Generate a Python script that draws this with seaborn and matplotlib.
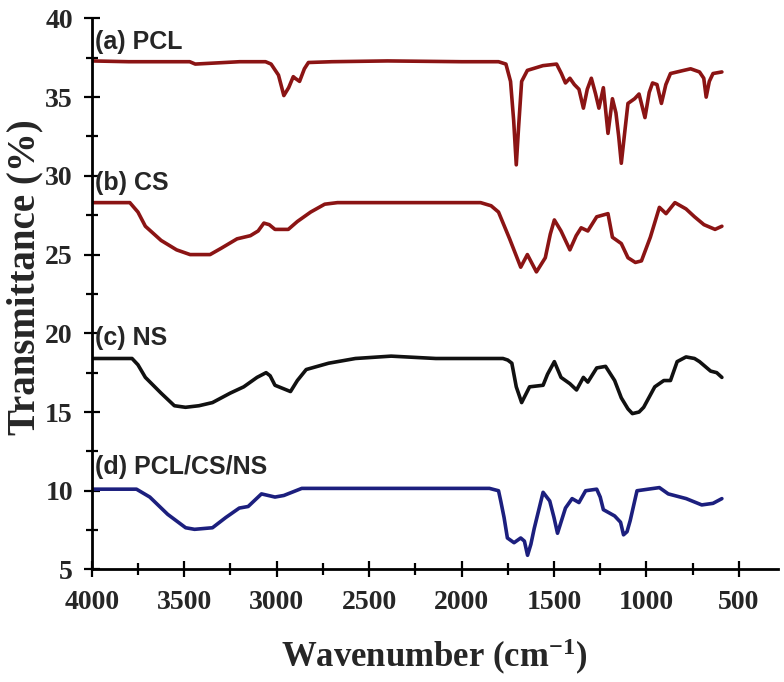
import matplotlib
matplotlib.use("Agg")
import matplotlib.pyplot as plt
import seaborn as sns
import pandas as pd
from matplotlib.ticker import MultipleLocator

# ---------------- data ----------------
pcl_wn = [4000, 3800, 3470, 3440, 3200, 3060, 3030, 2990, 2961, 2935, 2910, 2900, 2876, 2850, 2828,
          2700, 2400, 2000, 1800, 1760, 1735, 1718, 1704, 1692, 1675, 1644, 1560, 1486, 1460, 1438,
          1414, 1390, 1365, 1341, 1320, 1298, 1275, 1257, 1233, 1208, 1184, 1165, 1150, 1136, 1120,
          1100, 1088, 1064, 1040, 1008, 985, 967, 943, 919, 895, 870, 798, 761, 713, 690, 677, 660,
          640, 592]
pcl_t = [37.3, 37.25, 37.25, 37.1, 37.25, 37.25, 37.1, 36.4, 35.1, 35.6, 36.3, 36.2, 36.0, 36.8, 37.2,
         37.25, 37.3, 37.25, 37.25, 37.1, 36.0, 33.5, 30.7, 33.0, 36.0, 36.7, 37.0, 37.1, 36.5, 35.9,
         36.2, 35.8, 35.5, 34.3, 35.5, 36.2, 35.2, 34.3, 35.6, 32.7, 34.9, 34.0, 32.5, 30.8, 32.5,
         34.6, 34.7, 34.9, 35.2, 33.7, 35.3, 35.9, 35.8, 34.6, 35.8, 36.5, 36.7, 36.8, 36.6, 36.2,
         35.0, 36.0, 36.5, 36.6]

cs_wn = [4000, 3794, 3750, 3710, 3625, 3541, 3468, 3360, 3300, 3214, 3142, 3100, 3069, 3040, 3009,
         2937, 2888, 2816, 2740, 2671, 2300, 1897, 1840, 1800, 1740, 1680, 1644, 1595, 1547, 1520,
         1498, 1462, 1414, 1380, 1353, 1317, 1269, 1208, 1184, 1136, 1100, 1060, 1027, 979, 930,
         894, 846, 786, 740, 689, 629, 592]
cs_t = [28.3, 28.3, 27.7, 26.8, 25.9, 25.3, 25.0, 25.0, 25.4, 26.0, 26.2, 26.5, 27.0, 26.9, 26.6,
        26.6, 27.1, 27.7, 28.2, 28.3, 28.3, 28.3, 28.1, 27.7, 26.0, 24.2, 25.0, 23.9, 24.8, 26.3,
        27.2, 26.5, 25.3, 26.2, 26.7, 26.5, 27.4, 27.6, 26.1, 25.7, 24.8, 24.5, 24.6, 26.1, 28.0,
        27.6, 28.3, 27.9, 27.4, 26.9, 26.6, 26.8]

ns_wn = [4000, 3782, 3750, 3710, 3625, 3553, 3493, 3420, 3347, 3251, 3178, 3106, 3057, 3035, 3009,
         2925, 2888, 2840, 2719, 2574, 2381, 2139, 1776, 1750, 1728, 1704, 1675, 1632, 1559, 1535,
         1498, 1462, 1414, 1378, 1341, 1317, 1269, 1221, 1172, 1136, 1100, 1076, 1040, 1015, 955,
         906, 870, 834, 786, 740, 713, 653, 620, 592]
ns_t = [18.4, 18.4, 18.0, 17.2, 16.2, 15.4, 15.3, 15.4, 15.6, 16.2, 16.6, 17.2, 17.5, 17.3, 16.7,
        16.3, 17.0, 17.7, 18.1, 18.4, 18.55, 18.4, 18.4, 18.3, 18.1, 16.6, 15.6, 16.6, 16.7, 17.4,
        18.2, 17.2, 16.8, 16.4, 17.2, 16.9, 17.8, 17.9, 17.0, 15.9, 15.2, 14.9, 15.0, 15.3, 16.6,
        17.0, 17.0, 18.2, 18.5, 18.4, 18.2, 17.6, 17.5, 17.2]

mix_wn = [4000, 3758, 3686, 3589, 3492, 3444, 3347, 3275, 3202, 3154, 3082, 3009, 2961, 2864, 1849,
          1800, 1788, 1770, 1752, 1716, 1680, 1660, 1643, 1625, 1607, 1559, 1523, 1500, 1481, 1438,
          1402, 1365, 1329, 1269, 1250, 1233, 1172, 1140, 1124, 1105, 1088, 1051, 991, 930, 882,
          785, 701, 640, 592]
mix_t = [10.1, 10.1, 9.6, 8.5, 7.65, 7.55, 7.65, 8.3, 8.9, 9.0, 9.8, 9.6, 9.7, 10.15, 10.15,
         10.0, 9.35, 8.3, 7.0, 6.7, 7.0, 6.8, 5.9, 6.6, 7.6, 9.9, 9.35, 8.3, 7.3, 8.9,
         9.5, 9.25, 10.0, 10.1, 9.6, 8.8, 8.4, 8.0, 7.2, 7.4, 8.1, 10.0, 10.1, 10.2, 9.8,
         9.5, 9.1, 9.2, 9.5]

labels = ["(a) PCL", "(b) CS", "(c) NS", "(d) PCL/CS/NS"]
label_y = [38.5, 29.55, 19.7, 11.5]
colors = ["#8B1414", "#8B1414", "#111111", "#1C1F7E"]

series = [(pcl_wn, pcl_t), (cs_wn, cs_t), (ns_wn, ns_t), (mix_wn, mix_t)]

# ---------------- plot ----------------
sns.set_style("ticks")
plt.rcParams["mathtext.fontset"] = "custom"
plt.rcParams["mathtext.rm"] = "Liberation Serif:bold"
plt.rcParams["mathtext.bf"] = "Liberation Serif:bold"
plt.rcParams["mathtext.it"] = "Liberation Serif:bold"

fig = plt.figure(figsize=(7.84, 6.82), dpi=100)
ax = fig.add_axes([0.117, 0.165, 0.875, 0.808])

for (wn, t), c in zip(series, colors):
    df = pd.DataFrame({"wn": wn, "T": t})
    sns.lineplot(data=df, x="wn", y="T", ax=ax, color=c, lw=2.6, sort=False, estimator=None)

for lab, y in zip(labels, label_y):
    ax.text(3985, y, lab, fontsize=18, fontweight="bold", family="Liberation Sans",
            va="center", ha="left")

ax.set_xlim(4000, 290)
ax.set_ylim(5, 40)
ax.yaxis.set_major_locator(MultipleLocator(5))
ax.yaxis.set_minor_locator(MultipleLocator(2.5))
ax.set_xticks([4000, 3500, 3000, 2500, 2000, 1500, 1000, 500])
ax.set_xticks([3750, 3250, 2750, 2250, 1750, 1250, 750], minor=True)

sns.despine(ax=ax)
for s in ["left", "bottom"]:
    ax.spines[s].set_linewidth(2.0)
    ax.spines[s].set_color("black")

ax.tick_params(which="both", direction="inout", width=1.6, color="black")
ax.tick_params(which="major", length=11)
ax.tick_params(which="minor", length=9)
ax.tick_params(axis="x", which="major", labelsize=20, pad=9)
ax.tick_params(axis="y", which="major", labelsize=20, pad=8)
for lbl in ax.get_xticklabels() + ax.get_yticklabels():
    lbl.set_family("Liberation Serif")
    lbl.set_fontweight("bold")

ax.set_xlabel("Wavenumber (cm$^{-1}$)", fontsize=25, fontweight="bold",
              family="Liberation Serif", labelpad=16)
ax.set_ylabel("Transmittance (%)", fontsize=28, fontweight="bold",
              family="Liberation Serif")
ax.yaxis.set_label_coords(-0.07, 0.53)

fig.savefig("out.png", dpi=100, facecolor="white")
